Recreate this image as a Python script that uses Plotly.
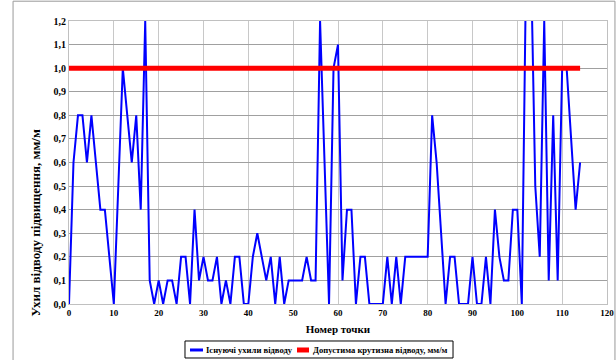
import plotly.graph_objects as go

points = list(range(0, 115))
slopes = [
    0, 0.6, 0.8, 0.8, 0.6, 0.8, 0.6, 0.4, 0.4, 0.2,
    0, 0.5, 1.0, 0.8, 0.6, 0.8, 0.4, 1.2, 0.1, 0,
    0.1, 0, 0.1, 0.1, 0, 0.2, 0.2, 0, 0.4, 0.1,
    0.2, 0.1, 0.1, 0.2, 0, 0.1, 0, 0.2, 0.2, 0,
    0, 0.2, 0.3, 0.2, 0.1, 0.2, 0, 0.2, 0, 0.1,
    0.1, 0.1, 0.1, 0.2, 0.1, 0.1, 1.2, 0.6, 0, 1.0,
    1.1, 0.1, 0.4, 0.4, 0, 0.2, 0.2, 0, 0, 0,
    0, 0.2, 0, 0.2, 0, 0.2, 0.2, 0.2, 0.2, 0.2,
    0.2, 0.8, 0.6, 0.3, 0, 0.2, 0.2, 0, 0, 0,
    0.2, 0, 0, 0.2, 0, 0.4, 0.2, 0.1, 0.1, 0.4,
    0.4, 0, 1.5, 1.5, 0.5, 0.2, 1.2, 0.1, 0.8, 0.1,
    1.0, 1.0, 0.7, 0.4, 0.6,
]
limit_x = [0, 114]
limit_y = [1.0, 1.0]

series_names = ["Існуючі ухили відводу", "Допустима крутизна відводу, мм/м"]
series_colors = ["#0000ff", "#ff0000"]
series_widths = [2, 5]
x_title = "Номер точки"
y_title = "Ухил відводу підвищення, мм/м"

FONT = "Liberation Serif"

fig = go.Figure()
fig.add_trace(go.Scatter(x=points, y=slopes, mode="lines", name=series_names[0],
                         line=dict(color=series_colors[0], width=series_widths[0])))
fig.add_trace(go.Scatter(x=limit_x, y=limit_y, mode="lines", name=series_names[1],
                         line=dict(color=series_colors[1], width=series_widths[1])))

# hand-drawn legend (paper coordinates) to match the compact Excel legend box
leg_y = -0.1625
leg_samples = [(0.2249, 0.2491), (0.4238, 0.4461)]
leg_text_x = [0.2509, 0.4498]
shapes = [
    dict(type="rect", xref="paper", yref="paper", x0=-0.104, x1=1.0148, y0=-0.21, y1=1.07,
         line=dict(color="#999999", width=1), layer="below"),
    dict(type="rect", xref="paper", yref="paper", x0=0.2156, x1=0.7138, y0=-0.1908, y1=-0.1307,
         line=dict(color="black", width=1), fillcolor="white"),
]
annotations = [
    dict(xref="paper", yref="paper", x=-0.063, y=0.285, xanchor="center", yanchor="middle",
         textangle=-90, showarrow=False, text=y_title,
         font=dict(family=FONT, size=13, color="black", weight="bold")),
]
for i, name in enumerate(series_names):
    shapes.append(dict(type="line", xref="paper", yref="paper",
                       x0=leg_samples[i][0], x1=leg_samples[i][1], y0=leg_y, y1=leg_y,
                       line=dict(color=series_colors[i], width=3 if i == 0 else 5)))
    annotations.append(dict(xref="paper", yref="paper", x=leg_text_x[i], y=leg_y,
                            xanchor="left", yanchor="middle", showarrow=False, text=name,
                            font=dict(family=FONT, size=8.6, color="black", weight="bold")))

fig.update_layout(
    width=616, height=360,
    margin=dict(l=69, r=9, t=21, b=56, autoexpand=False),
    paper_bgcolor="white", plot_bgcolor="white",
    separators=", ",
    font=dict(family=FONT, size=10, color="black", weight="bold"),
    showlegend=False,
    shapes=shapes,
    annotations=annotations,
)
fig.update_xaxes(range=[0, 120], dtick=10, tick0=0, automargin=False,
                 showgrid=True, gridcolor="#c8c8c8", gridwidth=1,
                 showline=True, linecolor="#c0c0c0", linewidth=1, mirror=True,
                 zeroline=False, ticks="",
                 tickfont=dict(family=FONT, size=9, weight="bold"),
                 title=dict(text=x_title, font=dict(family=FONT, size=11, weight="bold"), standoff=8))
fig.update_yaxes(range=[0, 1.2], dtick=0.1, tick0=0, tickformat=".1f", automargin=False,
                 showgrid=True, gridcolor="#a0a0a0", gridwidth=1,
                 showline=True, linecolor="#c0c0c0", linewidth=1, mirror=True,
                 zeroline=False, ticks="",
                 tickfont=dict(family=FONT, size=10, weight="bold"))

fig.write_html("out.html", config={"displayModeBar": False},
               post_script="document.body.style.margin='0';document.body.style.overflow='hidden';")
